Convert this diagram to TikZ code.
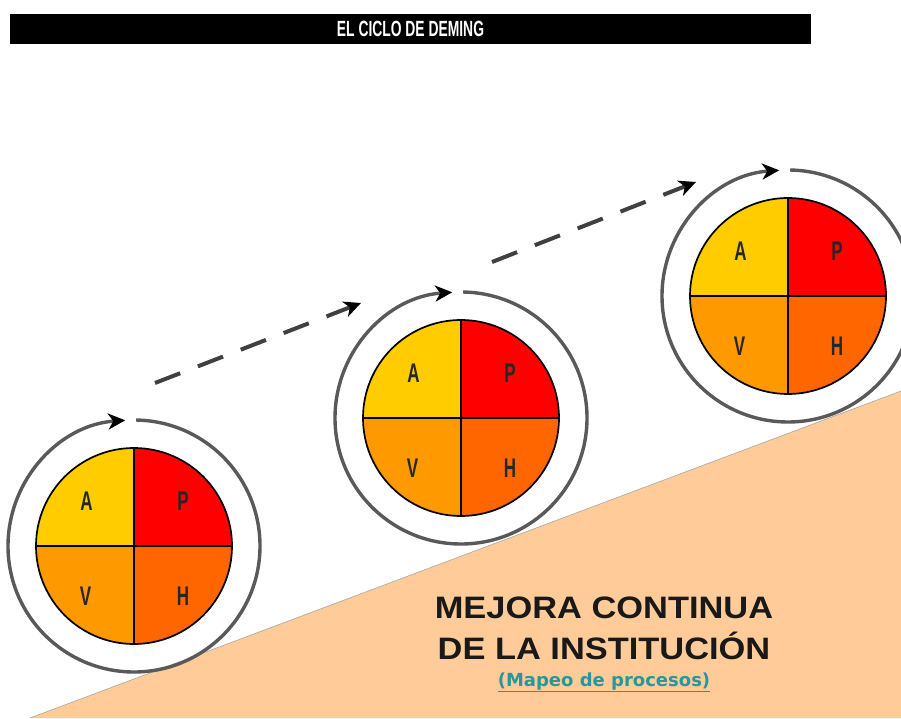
\documentclass[tikz,border=0pt]{standalone}
\usepackage{fontspec}
\setmainfont{Liberation Sans}
\newfontfamily\subfont{DejaVu Sans}
\usetikzlibrary{arrows.meta,positioning}
\definecolor{peach}{RGB}{255,204,153}
\definecolor{colA}{RGB}{255,204,0}
\definecolor{colP}{RGB}{255,0,0}
\definecolor{colV}{RGB}{255,153,0}
\definecolor{colH}{RGB}{255,102,0}
\definecolor{tealtxt}{RGB}{40,150,155}
\newcommand{\narrowtxt}[1]{\scalebox{0.63}[1]{#1}}

\begin{document}
\begin{tikzpicture}[x=1pt,y=1pt]
\tikzstyle{letter}=[font=\bfseries\fontsize{27}{27}\selectfont,text=black!85,inner sep=0pt]
\tikzstyle{ring}=[draw=black!65,line width=3.4pt,-{Stealth[length=17pt,width=16pt,inset=5pt,black]}]
\tikzstyle{dasharrow}=[draw=black!75,line width=4pt,dash pattern=on 27pt off 19pt,-{Stealth[length=17pt,width=16pt,inset=5pt,black]}]
\useasboundingbox (0,0) rectangle (901,718);

% fondo
\fill [peach] (30,0) -- (901,327) -- (901,0) -- cycle;
\draw [gray!70,line width=0.6pt] (30,0) -- (901,327);

% titulo
\node [fill=black,minimum width=801pt,minimum height=30pt,inner sep=0pt,
       text=white,font=\bfseries\fontsize{22}{22}\selectfont] (titulo) at (410.5,689)
      {\narrowtxt{EL CICLO DE DEMING}};

% ciclos
\coordinate (c1) at (134,172);
\coordinate (c2) at (461,300);
\coordinate (c3) at (788,422);

\foreach \c in {c1,c2,c3} {
  \fill [colP] (\c) -- ++(0:98) arc[start angle=0,end angle=90,radius=98] -- cycle;
  \fill [colA] (\c) -- ++(90:98) arc[start angle=90,end angle=180,radius=98] -- cycle;
  \fill [colV] (\c) -- ++(180:98) arc[start angle=180,end angle=270,radius=98] -- cycle;
  \fill [colH] (\c) -- ++(270:98) arc[start angle=270,end angle=360,radius=98] -- cycle;
  \draw [line width=1.7pt] (\c) circle[radius=98];
  \draw [line width=1.7pt] ([yshift=98]\c) -- ([yshift=-98]\c);
  \draw [line width=1.7pt] ([xshift=-98]\c) -- ([xshift=98]\c);
  \node [letter] (\c-A) at ([shift={(-47.5,45)}]\c) {\narrowtxt{A}};
  \node [letter] (\c-P) at ([shift={(49,45)}]\c) {\narrowtxt{P}};
  \node [letter] (\c-V) at ([shift={(-48.5,-50)}]\c) {\narrowtxt{V}};
  \node [letter] (\c-H) at ([shift={(49,-50)}]\c) {\narrowtxt{H}};
  \draw [ring] ([shift={(89:126)}]\c) arc[start angle=89,end angle=-266,radius=126];
}

% flechas entre ciclos
\coordinate (d1s) at (155,335);
\coordinate (d1e) at (361,415);
\coordinate (d2s) at (492,456);
\coordinate (d2e) at (696,536);
\draw [dasharrow] (d1s) -- (d1e);
\draw [dasharrow] (d2s) -- (d2e);

% texto
\node [align=center,font=\bfseries\fontsize{31}{41}\selectfont,text=black!90] (mejora) at (604,90)
      {\scalebox{1.11}[1]{MEJORA CONTINUA}\\\scalebox{1.11}[1]{DE LA INSTITUCIÓN}};
\node [font=\subfont\bfseries\fontsize{18}{18}\selectfont,text=tealtxt,below=6pt of mejora] (mapeo)
      {\underline{(Mapeo de procesos)}};
\end{tikzpicture}
\end{document}
